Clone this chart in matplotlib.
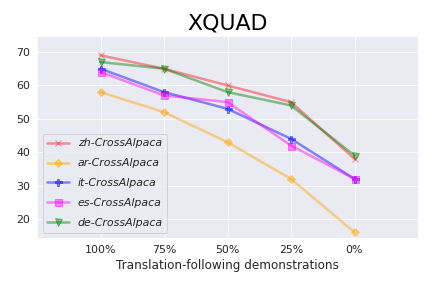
import matplotlib
matplotlib.use("Agg")
import matplotlib.pyplot as plt
import seaborn as sns

sns.set_style("darkgrid")

# data
xlabels = ["100%", "75%", "50%", "25%", "0%"]
zh = [69, 65, 60, 55, 38]
ar = [58, 52, 43, 32, 16]
it = [65, 58, 53, 44, 32]
es = [64, 57, 55, 42, 32]
de = [67, 65, 58, 54, 39]

x = list(range(len(xlabels)))

fig = plt.figure(figsize=(6, 4), dpi=72)
ax = fig.add_axes([37 / 432, 1 - 238 / 288, (418 - 37) / 432, (238 - 36) / 288])

ax.plot(x, zh, color="red", alpha=0.4, lw=2.5, marker="x", ms=6, label="zh-CrossAlpaca")
ax.plot(x, ar, color="orange", alpha=0.45, lw=2.5, marker="D", ms=6, label="ar-CrossAlpaca")
ax.plot(x, it, color="blue", alpha=0.45, lw=2.5, marker="P", ms=7, label="it-CrossAlpaca")
ax.plot(x, es, color="magenta", alpha=0.45, lw=2.5, marker="s", ms=7, label="es-CrossAlpaca")
ax.plot(x, de, color="green", alpha=0.45, lw=2.5, marker="v", ms=7, label="de-CrossAlpaca")

ax.set_xticks(x)
ax.set_xticklabels(xlabels)
ax.set_xlim(-1, 5)
ax.set_ylim(14.3, 74.8)
ax.set_yticks([20, 30, 40, 50, 60, 70])
ax.tick_params(labelsize=11)
ax.set_xlabel("Translation-following demonstrations", fontsize=12)
ax.set_title("XQUAD", fontsize=22, color="black")
leg = ax.legend(loc="lower left", prop={"style": "italic", "size": 11},
                labelspacing=0.9)

plt.savefig("out.png", dpi=72)
